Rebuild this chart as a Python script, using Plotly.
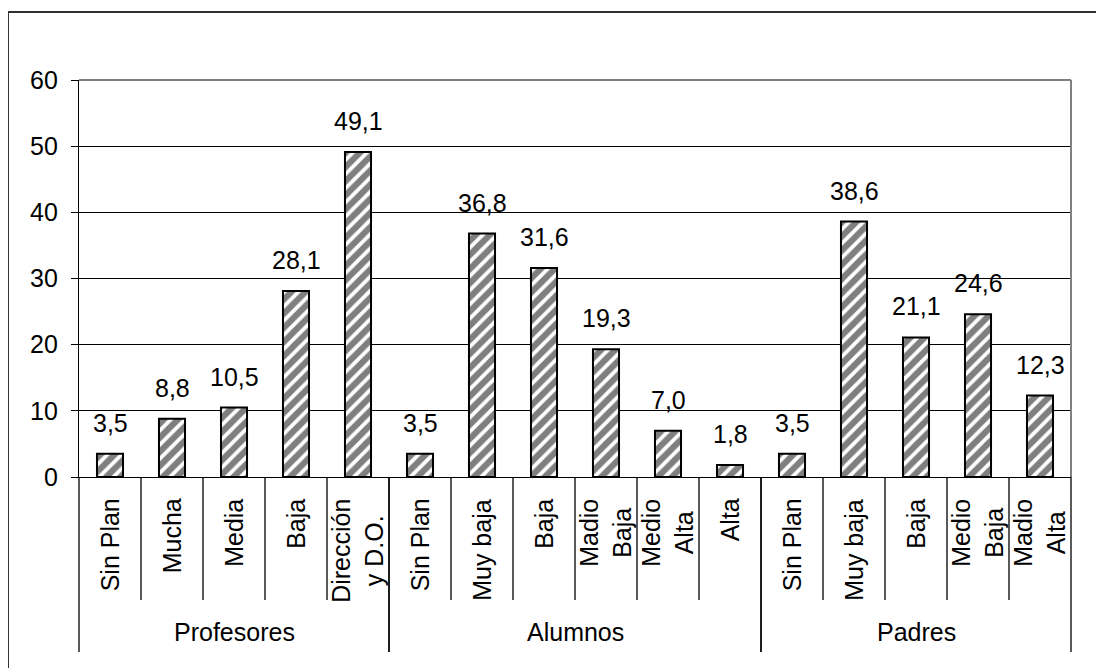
import plotly.graph_objects as go

groups = ["Profesores", "Alumnos", "Padres"]
group_categories = [
    ["Sin Plan", "Mucha", "Media", "Baja", "Dirección<br>y D.O."],
    ["Sin Plan", "Muy baja", "Baja", "Madio<br>Baja", "Medio<br>Alta", "Alta"],
    ["Sin Plan", "Muy baja", "Baja", "Medio<br>Baja", "Madio<br>Alta"],
]
profesores_values = [3.5, 8.8, 10.5, 28.1, 49.1]
alumnos_values = [3.5, 36.8, 31.6, 19.3, 7.0, 1.8]
padres_values = [3.5, 38.6, 21.1, 24.6, 12.3]
y_ticks = [0, 10, 20, 30, 40, 50, 60]

group_values = [profesores_values, alumnos_values, padres_values]
labels = [c for cats in group_categories for c in cats]
values = [v for vals in group_values for v in vals]
xs = list(range(len(values)))

FONT = "Arial, Liberation Sans, sans-serif"
FS = 25

fig = go.Figure()
fig.add_trace(go.Bar(
    x=xs, y=values, width=0.42,
    marker=dict(color="white",
                line=dict(color="black", width=2),
                pattern=dict(shape="/", fgcolor="black", bgcolor="white",
                             size=10, solidity=0.62)),
    hoverinfo="skip",
))

xmin, xmax = -0.5, len(values) - 0.5
annotations = []
# data labels
for x, v in zip(xs, values):
    annotations.append(dict(x=x, y=v, xref="x", yref="y", text=f"{v:.1f}".replace(".", ","),
                            showarrow=False, yanchor="bottom", yshift=15,
                            font=dict(family=FONT, size=FS, color="black")))
# category labels (rotated)
for x, lab in zip(xs, labels):
    annotations.append(dict(x=x, y=-0.05, xref="x", yref="paper", text=lab,
                            showarrow=False, textangle=-90, yanchor="top", xanchor="center",
                            align="center",
                            font=dict(family=FONT, size=FS, color="black")))
# group labels + separators
shapes = []
start = 0
for g, cats in zip(groups, group_categories):
    n = len(cats)
    annotations.append(dict(x=start + (n - 1) / 2, y=-0.39, xref="x", yref="paper", text=g,
                            showarrow=False, yanchor="middle",
                            font=dict(family=FONT, size=FS, color="black")))
    for k in range(n + 1):
        b = start - 0.5 + k
        px = (b - xmin) / (xmax - xmin)
        is_group = k == 0 or k == n
        shapes.append(dict(type="line", xref="paper", yref="paper", x0=px, x1=px,
                           y0=0, y1=-0.441 if is_group else -0.31,
                           line=dict(color="black", width=1.3)))
    start += n

# plot area top/right border (gray)
shapes.append(dict(type="line", xref="paper", yref="paper", x0=0, x1=1, y0=1, y1=1,
                   line=dict(color="#808080", width=2)))
shapes.append(dict(type="line", xref="paper", yref="paper", x0=1, x1=1, y0=0, y1=1,
                   line=dict(color="#808080", width=2)))
# outer chart border
shapes.append(dict(type="rect", xref="paper", yref="paper", x0=-0.0716, x1=1.2, y0=-0.7, y1=1.171,
                   line=dict(color="#303030", width=2), fillcolor="rgba(0,0,0,0)"))

fig.update_layout(
    width=1104, height=668,
    margin=dict(l=71, r=41, t=72, b=199),
    paper_bgcolor="white", plot_bgcolor="white",
    showlegend=False,
    bargap=0.58,
    annotations=annotations,
    shapes=shapes,
    font=dict(family=FONT, size=FS, color="black"),
    xaxis=dict(range=[xmin, xmax], showticklabels=False, ticks="", showgrid=False,
               zeroline=False, showline=True, linecolor="black", linewidth=1.3,
               fixedrange=True),
    yaxis=dict(range=[0, 60], tickvals=y_ticks, showgrid=True, gridcolor="black", gridwidth=1,
               zeroline=False, showline=True, linecolor="black", linewidth=1.3,
               ticks="outside", ticklen=7, tickcolor="black", tickwidth=1.3,
               ticklabelstandoff=8,
               tickfont=dict(family=FONT, size=FS, color="black"), fixedrange=True),
)

fig.write_html("out.html")
